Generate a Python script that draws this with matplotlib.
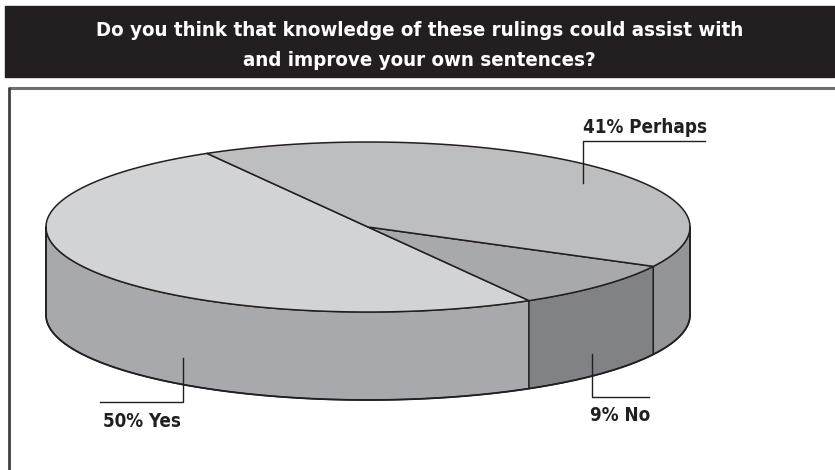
import numpy as np
import matplotlib
matplotlib.use("Agg")
import matplotlib.pyplot as plt
from matplotlib.patches import Polygon, Rectangle
from matplotlib import font_manager

# Survey answers, drawn counterclockwise from the start angle
categories = ["Yes", "No", "Perhaps"]
shares = [50, 9, 41]
title_lines = ["Do you think that knowledge of these rulings could assist with",
               "and improve your own sentences?"]

# Styling
top_colors = {"Yes": "#d1d3d4", "No": "#a7a9ac", "Perhaps": "#bcbec0"}
side_colors = {"Yes": "#a7a9ac", "No": "#808285", "Perhaps": "#939598"}
INK = "#231f20"

available = {f.name for f in font_manager.fontManager.ttflist}
if "Liberation Sans Narrow" in available:
    FONT = ["Liberation Sans Narrow", "DejaVu Sans"]
    STRETCH = "normal"
else:
    FONT = ["DejaVu Sans"]
    STRETCH = "condensed"

W, H = 835, 470
fig = plt.figure(figsize=(W / 100, H / 100), dpi=100)
ax = fig.add_axes([0, 0, 1, 1])
ax.set_xlim(0, W)
ax.set_ylim(H, 0)
ax.axis("off")

# Title banner
ax.add_patch(Rectangle((5, 6), 829, 71, color=INK, zorder=1))
ax.text(W / 2 + 2, 30, title_lines[0], color="white", fontsize=14.7,
        fontweight="bold", family=FONT, fontstretch=STRETCH,
        ha="center", va="center", zorder=2)
ax.text(W / 2 + 2, 60, title_lines[1], color="white", fontsize=14.7,
        fontweight="bold", family=FONT, fontstretch=STRETCH,
        ha="center", va="center", zorder=2)

# Chart frame
ax.plot([9, W], [88, 88], color="#6d6e71", lw=2.2, solid_capstyle="butt", zorder=1)
ax.plot([9, 9], [87, H], color="#414042", lw=2.0, solid_capstyle="butt", zorder=1)

# 3D pie geometry (pixel units)
cx, cy, rx, ry, depth = 368, 227, 322, 85, 88
start = 120.0


def rim(t_deg, dy=0.0):
    t = np.radians(t_deg)
    return np.column_stack([cx + rx * np.cos(t), cy - ry * np.sin(t) + dy])


spans = np.array(shares) / sum(shares) * 360.0
bounds = start + np.concatenate([[0], np.cumsum(spans)])

# Side walls (front half only, 180..360 degrees)
for name, a0, a1 in zip(categories, bounds[:-1], bounds[1:]):
    lo, hi = a0 % 360, a0 % 360 + (a1 - a0)
    for off in (0, 360, -360):
        s0, s1 = max(lo + off, 180), min(hi + off, 360)
        if s1 > s0:
            t = np.linspace(s0, s1, 200)
            pts = np.vstack([rim(t), rim(t[::-1], depth)])
            ax.add_patch(Polygon(pts, closed=True, facecolor=side_colors[name],
                                 edgecolor=INK, lw=1.0, joinstyle="round", zorder=3))

# Top faces
for name, a0, a1 in zip(categories, bounds[:-1], bounds[1:]):
    t = np.linspace(a0, a1, 300)
    pts = np.vstack([[cx, cy], rim(t)])
    ax.add_patch(Polygon(pts, closed=True, facecolor=top_colors[name],
                         edgecolor=INK, lw=1.1, joinstyle="round", zorder=4))

# Outer silhouette
tb = np.linspace(180, 360, 300)
ax.plot(*rim(tb, depth).T, color=INK, lw=1.3, zorder=5)
ax.plot([cx - rx, cx - rx], [cy, cy + depth], color=INK, lw=1.3, zorder=5)
ax.plot([cx + rx, cx + rx], [cy, cy + depth], color=INK, lw=1.3, zorder=5)

# Callout labels: text anchor and leader path for each slice
callouts = {
    "Perhaps": dict(text_xy=(583, 133), path=[(705, 141), (583, 141), (583, 183)]),
    "Yes": dict(text_xy=(103, 427), path=[(100, 402), (183, 402), (183, 358)]),
    "No": dict(text_xy=(590, 421), path=[(649, 397), (592, 397), (592, 354)]),
}
for name, share in zip(categories, shares):
    c = callouts[name]
    px, py = zip(*c["path"])
    ax.plot(px, py, color=INK, lw=1.0, zorder=6)
    ax.text(*c["text_xy"], f"{share}% {name}", color=INK, fontsize=13.5,
            fontweight="bold", family=FONT, fontstretch=STRETCH,
            ha="left", va="baseline", zorder=6)

fig.savefig("out.png", dpi=100)
